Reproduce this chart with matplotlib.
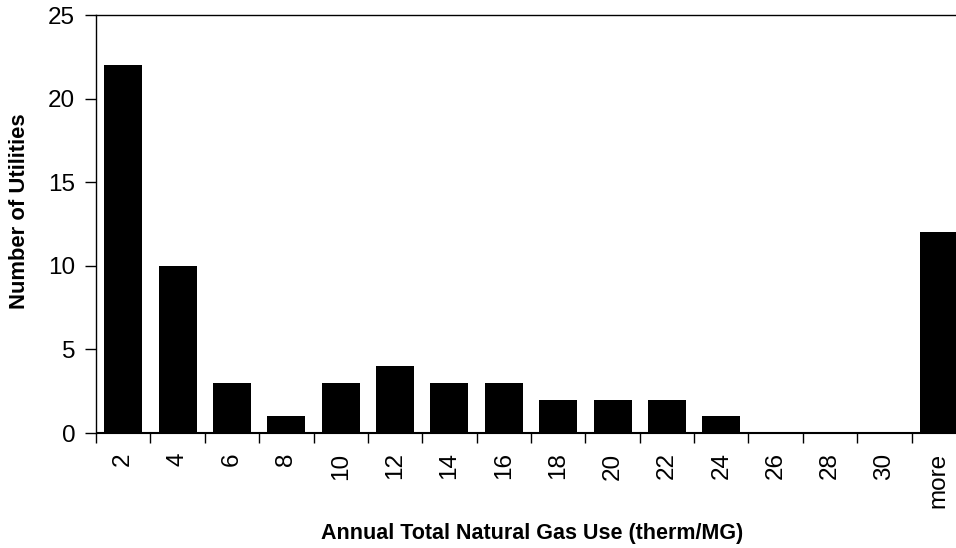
import numpy as np
import matplotlib.pyplot as plt

plt.rcParams['font.family'] = ['Liberation Sans', 'DejaVu Sans']

bins = ['2', '4', '6', '8', '10', '12', '14', '16', '18', '20', '22', '24',
        '26', '28', '30', 'more']
counts = [22, 10, 3, 1, 3, 4, 3, 3, 2, 2, 2, 1, 0, 0, 0, 12]

fig = plt.figure(figsize=(9.56, 5.48), dpi=100)
# plot area runs slightly past the right edge, as in the original
ax = fig.add_axes([96/956, 115/548, 870/956, 418/548])

x = np.arange(len(bins))
ax.bar(x, counts, width=0.7, color='black', zorder=3)
ax.axhline(0, color='black', lw=1.5, zorder=4)

ax.set_xlim(-0.5, len(bins) - 0.5)
ax.set_ylim(0, 25)
ax.set_yticks([0, 5, 10, 15, 20, 25])

# labels at bar centres, tick marks on the category boundaries
ax.set_xticks(x)
ax.set_xticklabels(bins, rotation=90)
ax.set_xticks(np.arange(len(bins) + 1) - 0.5, minor=True)
ax.tick_params(axis='x', which='major', length=0, pad=14, labelsize=17.5)
ax.tick_params(axis='x', which='minor', length=7, width=1, direction='out')
ax.tick_params(axis='y', length=8, width=1, direction='out', labelsize=17.5, pad=7)

for s in ['left', 'top']:
    ax.spines[s].set_linewidth(1)
ax.spines['right'].set_visible(False)

fig.text(20/956, 1 - 211/548, 'Number of Utilities', rotation=90,
         fontsize=15.8, fontweight='bold', ha='center', va='center')
fig.text(532/956, 1 - 533/548, 'Annual Total Natural Gas Use (therm/MG)',
         fontsize=15.5, fontweight='bold', ha='center', va='center')

fig.savefig('out.png', dpi=100)
